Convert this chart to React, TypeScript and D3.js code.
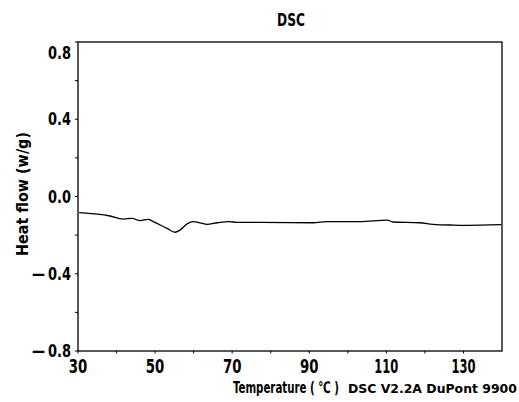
import React, { useLayoutEffect, useRef, useState } from "react";
import * as d3 from "d3";

const temps = [30.3, 38.3, 41.7, 44.0, 46.1, 48.2, 49.5, 53.1, 55.2, 56.5, 58.3, 59.8, 61.6, 63.5, 66.1, 69.4, 71.2, 77.2, 91.0, 94.6, 103.2, 110.2, 111.7, 118.7, 122.1, 127.3, 130.9, 139.8];
const heatFlow = [-0.084, -0.101, -0.117, -0.113, -0.125, -0.118, -0.130, -0.165, -0.185, -0.173, -0.142, -0.130, -0.136, -0.144, -0.136, -0.130, -0.134, -0.134, -0.136, -0.130, -0.130, -0.122, -0.132, -0.136, -0.144, -0.148, -0.149, -0.146];
const xTickLabels = [30, 50, 70, 90, 110, 130];
const xMinorTicks = [30, 40, 50, 60, 70, 80, 90, 100, 110, 120, 130];
const yTickLabels = [0.8, 0.4, 0.0, -0.4, -0.8];
const yMinorTicks = [0.8, 0.6, 0.4, 0.2, 0.0, -0.2, -0.4, -0.6, -0.8];

const FONT = "'Liberation Sans Narrow', 'Arial Narrow', 'DejaVu Sans Condensed', 'DejaVu Sans', sans-serif";

type FitProps = { x: number; y: number; w: number; fs: number; anchor?: string; rot?: number; children: React.ReactNode };

function FitText({ x, y, w, fs, anchor = "start", rot = 0, children }: FitProps) {
  const ref = useRef<SVGTextElement>(null);
  const [sx, setSx] = useState(1);
  useLayoutEffect(() => {
    const el = ref.current;
    if (!el) return;
    const n = el.getComputedTextLength();
    if (n > 0) setSx(w / n);
  }, [w, fs, children]);
  return (
    <text ref={ref} transform={`translate(${x},${y}) rotate(${rot}) scale(${sx},1)`} textAnchor={anchor as any} fontSize={fs}>
      {children}
    </text>
  );
}

export default function App() {
  const left = 78, right = 502, top = 42, bottom = 351;
  const x = d3.scaleLinear().domain([30, 140]).range([left, right]);
  const y = d3.scaleLinear().domain([-0.8, 0.8]).range([bottom, top]);
  const pts: [number, number][] = temps.map((t, i) => [t, heatFlow[i]]);
  const line = d3.line<[number, number]>().x(d => x(d[0])).y(d => y(d[1])).curve(d3.curveMonotoneX);

  const yLabelBaseline = (v: number) => (v === 0.8 ? y(v) + 16.5 : y(v) + 6);

  return (
    <svg width={519} height={402} style={{ position: "absolute", left: 0, top: 0, background: "#fff" }}
      fontFamily={FONT} fontWeight="bold">
      <rect x={0} y={0} width={519} height={402} fill="#fff" />
      <FitText x={291} y={26} w={28} fs={17.5} anchor="middle">DSC</FitText>
      <rect x={left} y={top} width={right - left} height={bottom - top} fill="none" stroke="#000" strokeWidth={1.3} />
      {yMinorTicks.map(v => (
        <line key={"yt" + v} x1={left - 3} x2={left} y1={y(v)} y2={y(v)} stroke="#000" strokeWidth={1} />
      ))}
      {xMinorTicks.map(v => (
        <line key={"xt" + v} x1={x(v)} x2={x(v)} y1={bottom} y2={bottom + 2.5} stroke="#000" strokeWidth={1} />
      ))}
      {yTickLabels.map(v => (
        <g key={"yl" + v}>
          {v < 0 ? <FitText x={32} y={yLabelBaseline(v)} w={13} fs={17.5}>—</FitText> : null}
          <FitText x={48} y={yLabelBaseline(v)} w={23} fs={17.5}>{Math.abs(v).toFixed(1)}</FitText>
        </g>
      ))}
      {xTickLabels.map(v => (
        <FitText key={"xl" + v} x={x(v)} y={372.5} fs={20} anchor="middle"
          w={String(v).length === 3 ? 24 : 18.5}>{String(v)}</FitText>
      ))}
      <FitText x={28} y={194} rot={-90} anchor="middle" fs={16} w={124}>Heat flow  (w/g)</FitText>
      <FitText x={233} y={393} fs={16} w={106}>Temperature ( ℃ )</FitText>
      <FitText x={348} y={393} fs={12.5} w={169}>DSC  V2.2A  DuPont  9900</FitText>
      <path d={line(pts) || ""} fill="none" stroke="#000" strokeWidth={1.3} />
    </svg>
  );
}
